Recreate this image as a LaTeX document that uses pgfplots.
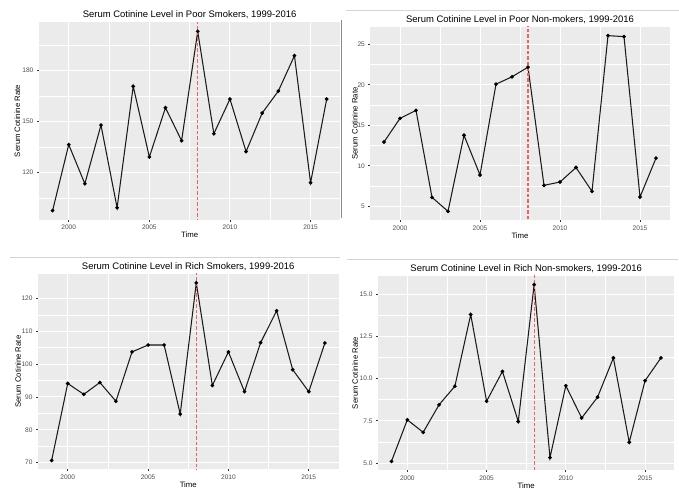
\documentclass[border=0pt]{standalone}
\usepackage{pgfplots}
\pgfplotsset{compat=1.18}
\usepackage{pgfplotstable}
\usepackage{fontspec}
\setmainfont{Liberation Sans}
\definecolor{bgcol}{HTML}{EBEBEB}
\definecolor{tickcol}{HTML}{333333}
\definecolor{ticklab}{HTML}{4D4D4D}
\definecolor{vcol}{RGB}{242,96,96}
\definecolor{sepcol}{HTML}{D4D4D4}
\definecolor{edgecol}{HTML}{8A8A8A}
\definecolor{linecol}{HTML}{1A1A1A}

\pgfplotstableread{
year val
1999 97.5
2000 136.3
2001 113.3
2002 147.8
2003 99.2
2004 170.6
2005 129.0
2006 158.0
2007 138.6
2008 202.9
2009 142.7
2010 163.1
2011 132.2
2012 154.9
2013 167.8
2014 188.6
2015 113.9
2016 163.1
}\poorsmk
\pgfplotstableread{
year val
1999 12.94
2000 15.86
2001 16.85
2002 6.11
2003 4.38
2004 13.77
2005 8.87
2006 20.08
2007 20.99
2008 22.18
2009 7.59
2010 8.00
2011 9.79
2012 6.85
2013 26.07
2014 25.95
2015 6.15
2016 10.95
}\poornon
\pgfplotstableread{
year val
1999 70.7
2000 94.1
2001 90.8
2002 94.4
2003 88.7
2004 103.7
2005 105.8
2006 105.8
2007 84.8
2008 124.7
2009 93.5
2010 103.7
2011 91.6
2012 106.5
2013 116.2
2014 98.3
2015 91.6
2016 106.4
}\richsmk
\pgfplotstableread{
year val
1999 5.10
2000 7.56
2001 6.82
2002 8.45
2003 9.55
2004 13.80
2005 8.66
2006 10.43
2007 7.46
2008 15.57
2009 5.32
2010 9.58
2011 7.67
2012 8.90
2013 11.23
2014 6.23
2015 9.88
2016 11.23
}\richnon

\pgfplotsset{
  every axis title shift=0pt,
  gg/.style={
    scale only axis,
    anchor=south west,
    xmin=1998.15, xmax=2016.85,
    xtick={2000,2005,2010,2015},
    minor xtick={2002.5,2007.5,2012.5},
    grid=both,
    major grid style={white, line width=1bp},
    minor grid style={white, line width=0.5bp},
    axis background/.style={fill=bgcol},
    axis line style={draw=none},
    tick pos=left,
    tick align=outside,
    major tick length=2bp,
    minor tick length=0pt,
    tick style={color=tickcol, line width=0.7bp},
    tick label style={font=\fontsize{6.6}{7}\selectfont, text=ticklab},
    /pgf/number format/assume math mode=true,
    /pgf/number format/1000 sep={},
    title style={at={(0.5,1)}, anchor=base, yshift=4.6bp, font=\fontsize{9.5}{11}\selectfont},
    xlabel={Time},
    ylabel={Serum Cotinine Rate},
    label style={font=\fontsize{7.8}{9}\selectfont},
    xlabel style={at={(rel axis cs:0.5,0)}, anchor=center, yshift=-15.5bp},
  },
  dat/.style={draw=linecol, line width=1.05bp, mark=*, mark size=1.3bp, mark options={fill=black, draw=black}},
  vl/.style={draw=vcol, color=vcol, line width=1.1bp, dash pattern=on 3.5bp off 2bp},
}

\begin{document}
\begin{tikzpicture}
\useasboundingbox (0,0) rectangle (679bp,489bp);

\begin{axis}[gg, at={(38.9bp,269.4bp)}, width=301.5bp, height=197.2bp,
  ymin=92.2, ymax=208.2, ytick={120,150,180}, minor ytick={105,135,165,195},
  title={Serum Cotinine Level in Poor Smokers, 1999-2016},
  ylabel style={at={(rel axis cs:0,0.5)}, anchor=center, yshift=21.5bp}]
\addplot[dat] table[x=year,y=val] {\poorsmk};
\addplot[vl] coordinates {(2008,0) (2008,300)};
\end{axis}

\begin{axis}[gg, at={(370.4bp,268.9bp)}, width=299.2bp, height=193.2bp,
  ymin=3.3, ymax=27.15, ytick={5,10,15,20,25}, minor ytick={7.5,12.5,17.5,22.5},
  title={Serum Cotinine Level in Poor Non-mokers, 1999-2016},
  ylabel style={at={(rel axis cs:0,0.5)}, anchor=center, yshift=15.5bp}]
\addplot[dat] table[x=year,y=val] {\poornon};
\addplot[vl] coordinates {(2008,0) (2008,300)};
\end{axis}

\begin{axis}[gg, at={(38bp,19.7bp)}, width=300.5bp, height=195.3bp,
  ymin=68.0, ymax=127.4, ytick={70,80,90,100,110,120}, minor ytick={75,85,95,105,115},
  title={Serum Cotinine Level in Rich Smokers, 1999-2016},
  ylabel style={at={(rel axis cs:0,0.5)}, anchor=center, yshift=20bp}]
\addplot[dat] table[x=year,y=val] {\richsmk};
\addplot[vl] coordinates {(2008,0) (2008,300)};
\end{axis}

\begin{axis}[gg, at={(378bp,18.9bp)}, width=296.4bp, height=194.2bp,
  ymin=4.58, ymax=16.09, ytick={5,7.5,10,12.5,15}, minor ytick={6.25,8.75,11.25,13.75},
  yticklabel style={/pgf/number format/.cd, fixed, fixed zerofill, precision=1},
  title={Serum Cotinine Level in Rich Non-smokers, 1999-2016},
  ylabel style={at={(rel axis cs:0,0.5)}, anchor=center, yshift=23bp}]
\addplot[dat] table[x=year,y=val] {\richnon};
\addplot[vl] coordinates {(2008,0) (2008,300)};
\end{axis}

\draw[sepcol, line width=0.8bp] (346bp,479bp) -- (679bp,479bp);
\draw[sepcol, line width=0.8bp] (10bp,231.7bp) -- (340bp,231.7bp);
\draw[sepcol, line width=0.8bp] (347bp,230bp) -- (678bp,230bp);
\draw[edgecol, line width=0.6bp] (341.6bp,469bp) -- (341.6bp,271bp);
\end{tikzpicture}
\end{document}
